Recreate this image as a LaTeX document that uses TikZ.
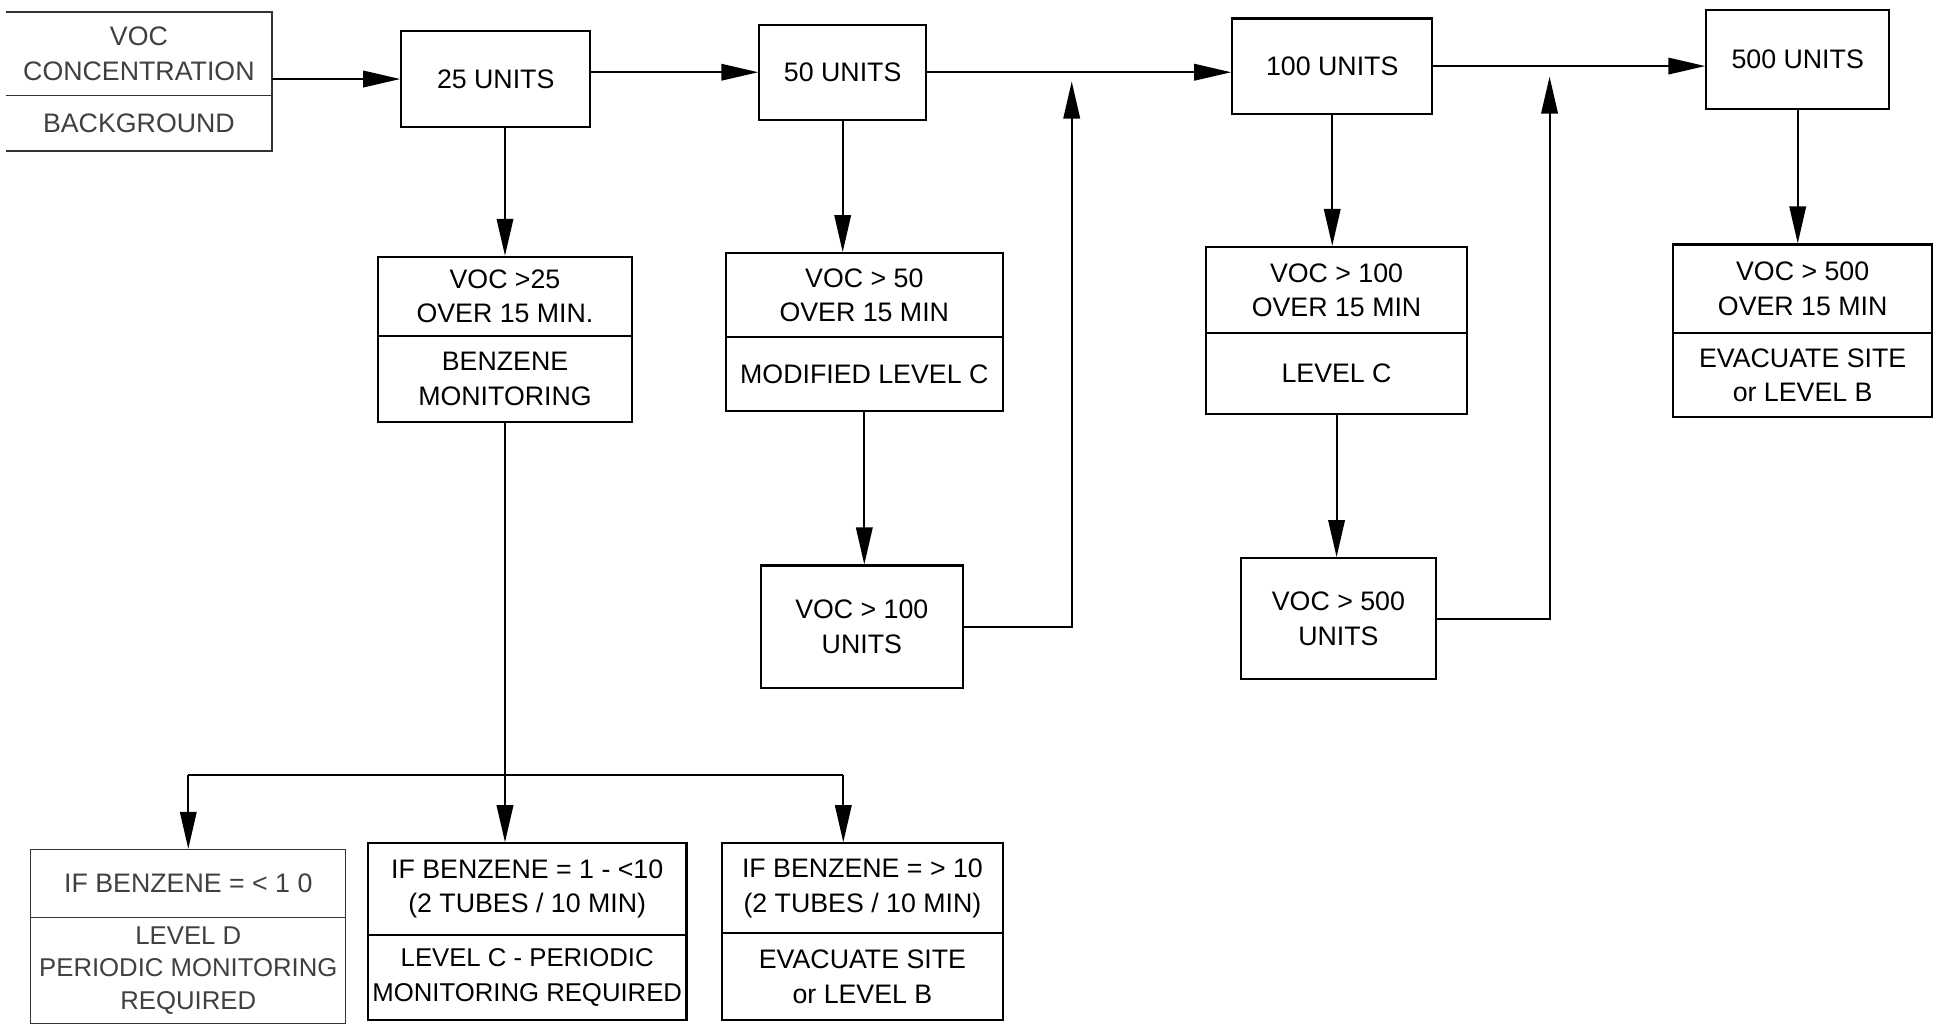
\documentclass[tikz,border=0pt]{standalone}
\usepackage{fontspec}
\setmainfont{Liberation Sans}
\usetikzlibrary{arrows.meta,calc}
\begin{document}
\begin{tikzpicture}[x=0.6pt,y=-0.6pt,
  txt/.style={inner sep=0pt, align=center, font=\fontsize{13}{16.8}\selectfont},
  cell/.style={txt, draw, line width=1pt},
  lightcell/.style={txt, draw, line width=0.6pt, text=black!75, draw=black!80},
  bare/.style={txt, text=black!75},
  conn/.style={line width=1pt},
  arr/.style={conn, -{Triangle[length=18pt,width=8pt]}}]
\useasboundingbox[fill=white] (0,0) rectangle (1568,829);

% VOC concentration (open on the left)
\node[bare, minimum width=129pt, minimum height=40.2pt] (voct) at (112.5,43.5) {VOC\\CONCENTRATION};
\node[bare, minimum width=129pt, minimum height=27pt] (vocb) at (112.5,99.5) {BACKGROUND};
\draw[line width=0.6pt, draw=black!80] (voct.north west) -- (voct.north east) -- (vocb.south east) -- (vocb.south west);
\draw[line width=0.6pt, draw=black!80] (voct.south west) -- (voct.south east);

% top row
\node[cell, minimum width=91.8pt, minimum height=46.8pt] (b25) at (401.5,64) {25 UNITS};
\node[cell, minimum width=81pt, minimum height=46.2pt] (b50) at (682.5,58.5) {50 UNITS};
\node[cell, minimum width=97.2pt, minimum height=46.2pt] (b100) at (1079,53.5) {100 UNITS};
\node[cell, minimum width=88.8pt, minimum height=48pt] (b500) at (1456,48) {500 UNITS};

% second row
\node[cell, minimum width=123.6pt, minimum height=38.4pt] (v25t) at (409,240) {VOC >25\\OVER 15 MIN.};
\node[cell, minimum width=123.6pt, minimum height=42pt] (v25b) at (409,307) {BENZENE\\MONITORING};

\node[cell, minimum width=134.4pt, minimum height=40.8pt] (v50t) at (700,239) {VOC > 50\\OVER 15 MIN};
\node[cell, minimum width=134.4pt, minimum height=36pt] (v50b) at (700,303) {MODIFIED LEVEL C};

\node[cell, minimum width=126.6pt, minimum height=42pt] (v100t) at (1082.5,235) {VOC > 100\\OVER 15 MIN};
\node[cell, minimum width=126.6pt, minimum height=39pt] (v100b) at (1082.5,302.5) {LEVEL C};

\node[cell, minimum width=126pt, minimum height=43.2pt] (v500t) at (1460,234) {VOC > 500\\OVER 15 MIN};
\node[cell, minimum width=126pt, minimum height=40.8pt] (v500b) at (1460,304) {EVACUATE SITE\\or LEVEL B};

% third row
\node[cell, minimum width=98.4pt, minimum height=59.4pt] (m100) at (698,507.5) {VOC > 100\\UNITS};
\node[cell, minimum width=94.8pt, minimum height=58.8pt] (m500) at (1084,501) {VOC > 500\\UNITS};

% bottom row
\node[lightcell, minimum width=153pt, minimum height=33pt] (blt) at (152.5,715.5) {IF BENZENE = < 1 0};
\node[lightcell, minimum width=153pt, minimum height=51.6pt, font=\fontsize{12.5}{15.6}\selectfont] (blb) at (152.5,786) {LEVEL D\\PERIODIC MONITORING\\REQUIRED};

\node[cell, minimum width=154.8pt, minimum height=44.4pt] (bmt) at (427,720) {IF BENZENE = 1 - <10\\(2 TUBES / 10 MIN)};
\node[cell, minimum width=154.8pt, minimum height=41.4pt, font=\fontsize{12.5}{16.8}\selectfont] (bmb) at (427,791.5) {LEVEL C - PERIODIC\\MONITORING REQUIRED};

\node[cell, minimum width=136.2pt, minimum height=43.8pt] (brt) at (698.5,719.5) {IF BENZENE = > 10\\(2 TUBES / 10 MIN)};
\node[cell, minimum width=136.2pt, minimum height=42pt] (brb) at (698.5,791) {EVACUATE SITE\\or LEVEL B};

% connectors, top row
\draw[arr] (vocb.east |- b25.west) -- (b25.west);
\draw[arr] (b25.east |- b50.west) -- (b50.west);
\draw[arr] (b50.east) -- (b50.east -| b100.west);
\draw[arr] (b100.east) -- (b100.east -| b500.west);

% feedback arrows
\coordinate (j1) at (868,66);
\coordinate (j2) at (1255,62);
\draw[arr] (m100.east) -| (j1);
\draw[arr] (m500.east) -| (j2);

% downward arrows
\draw[arr] (v25t.north |- b25.south) -- (v25t.north);
\draw[arr] (b50.south) -- (b50.south |- v50t.north);
\draw[arr] (v50b.south) -- (v50b.south |- m100.north);
\draw[arr] (b100.south) -- (b100.south |- v100t.north);
\draw[arr] (v100b.south) -- (v100b.south |- m500.north);
\draw[arr] (b500.south) -- (b500.south |- v500t.north);

% benzene split
\coordinate (sl) at (152.5,628);
\coordinate (sr) at (683,628);
\draw[arr] (v25b.south) -- (v25b.south |- bmt.north);
\draw[conn] (sl) -- (sr);
\draw[arr] (sl) -- (sl |- blt.north);
\draw[arr] (sr) -- (sr |- brt.north);
\end{tikzpicture}
\end{document}
